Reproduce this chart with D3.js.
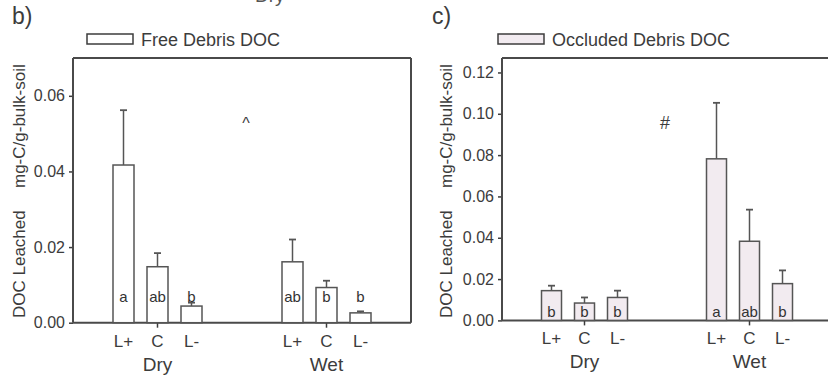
<!DOCTYPE html>
<html>
<head>
<meta charset="utf-8">
<script src="https://cdn.jsdelivr.net/npm/d3@7/dist/d3.min.js"></script>
<style>
  body { margin: 0; background: #fff; }
  svg { display: block; font-family: "Liberation Sans", Arial, sans-serif; }
</style>
</head>
<body>
<svg id="chart" width="828" height="379"></svg>
<script>
const groups = ["Dry", "Wet"];
const treatments = ["L+", "C", "L-"];

// panel b: free debris DOC (mean, upper error)
const freeMean = [[0.0417, 0.0148, 0.0044], [0.0161, 0.0093, 0.0026]];
const freeErr  = [[0.0562, 0.0184, 0.0053], [0.0220, 0.0111, 0.0030]];
const freeLetters = [["a", "ab", "b"], ["ab", "b", "b"]];
const freeTicks = [0, 0.02, 0.04, 0.06];

// panel c: occluded debris DOC
const occMean = [[0.0144, 0.0084, 0.0111], [0.0782, 0.0383, 0.0178]];
const occErr  = [[0.0168, 0.0111, 0.0144], [0.1053, 0.0536, 0.0242]];
const occLetters = [["b", "b", "b"], ["a", "ab", "b"]];
const occTicks = [0, 0.02, 0.04, 0.06, 0.08, 0.10, 0.12];

const ink = "#3c3c3c";
const svg = d3.select("#chart");

// cut-off headings at the very top
svg.append("text").attr("x", 255).attr("y", 2).attr("font-size", 19).attr("fill", "#555").text("Dry");
svg.append("text").attr("x", 630).attr("y", -1).attr("font-size", 19).attr("fill", "#777").text("Wet");

function toRows(means, errs, letters) {
  const rows = [];
  groups.forEach((g, i) => treatments.forEach((t, j) => {
    rows.push({ group: g, treat: t, mean: means[i][j], err: errs[i][j], letter: letters[i][j] });
  }));
  return rows;
}

function drawPanel(cfg) {
  const g = svg.append("g").attr("transform", `translate(${cfg.left},${cfg.top})`);
  const rows = toRows(cfg.means, cfg.errs, cfg.letters);

  const x0 = d3.scalePoint().domain(groups).range([0, cfg.width]).padding(0.5);
  const x1 = d3.scalePoint().domain(treatments).range([-cfg.step, cfg.step]);
  const y = d3.scaleLinear().domain([0, cfg.ymax]).range([cfg.height, 0]);
  const cx = d => x0(d.group) + x1(d.treat);

  // panel label + legend
  svg.append("text").attr("x", cfg.left - 61 + cfg.labelDx).attr("y", 24)
    .attr("font-size", 23).attr("fill", ink).text(cfg.tag);
  svg.append("rect").attr("x", cfg.legX).attr("y", 34).attr("width", 46).attr("height", 10)
    .attr("fill", cfg.fill).attr("stroke", ink).attr("stroke-width", 1.5);
  svg.append("text").attr("x", cfg.legX + 54).attr("y", 46)
    .attr("font-size", 18).attr("fill", ink).text(cfg.legend);

  // y axis
  const yAxis = g.append("g").call(d3.axisLeft(y).tickValues(cfg.ticks).tickFormat(d3.format(".2f")).tickSize(4));
  yAxis.select(".domain").remove();
  yAxis.selectAll("line").attr("stroke", ink).attr("stroke-width", 1.5);
  yAxis.selectAll("text").attr("font-size", 16).attr("fill", ink).attr("dx", -1)
    .attr("font-family", "Liberation Sans, Arial, sans-serif");

  // y label
  const yl = svg.append("g").attr("transform", `translate(${cfg.left - cfg.ylabDx},0)`);
  yl.append("text").attr("transform", "rotate(-90)").attr("x", -318).attr("y", 0)
    .attr("font-size", 17).attr("fill", ink).text("DOC Leached");
  yl.append("text").attr("transform", "rotate(-90)").attr("x", -188).attr("y", 0)
    .attr("font-size", 17).attr("fill", ink).text("mg-C/g-bulk-soil");

  // frame
  const frame = g.append("g").attr("fill", "none").attr("stroke", "#4a4a4a").attr("stroke-width", 2);
  frame.append("line").attr("x1", 0).attr("x2", 0).attr("y1", 0).attr("y2", cfg.height);
  frame.append("line").attr("x1", 0).attr("x2", cfg.width).attr("y1", 0).attr("y2", 0);
  frame.append("line").attr("x1", 0).attr("x2", cfg.width).attr("y1", cfg.height).attr("y2", cfg.height);
  if (cfg.rightEdge) {
    frame.append("line").attr("x1", cfg.width).attr("x2", cfg.width).attr("y1", 0).attr("y2", cfg.height);
  }

  // x ticks at group centres
  g.selectAll(".gtick").data(groups).enter().append("line")
    .attr("x1", d => x0(d)).attr("x2", d => x0(d))
    .attr("y1", cfg.height).attr("y2", cfg.height + 5)
    .attr("stroke", ink).attr("stroke-width", 1.5);

  // error bars
  g.selectAll(".err").data(rows).enter().append("line")
    .attr("x1", cx).attr("x2", cx).attr("y1", d => y(d.mean)).attr("y2", d => y(d.err))
    .attr("stroke", "#555").attr("stroke-width", 1.5);
  g.selectAll(".cap").data(rows).enter().append("line")
    .attr("x1", d => cx(d) - 3.5).attr("x2", d => cx(d) + 3.5)
    .attr("y1", d => y(d.err)).attr("y2", d => y(d.err))
    .attr("stroke", "#555").attr("stroke-width", 1.8);

  // bars
  g.selectAll(".bar").data(rows).enter().append("rect")
    .attr("x", d => cx(d) - cfg.barW / 2).attr("width", cfg.barW)
    .attr("y", d => y(d.mean)).attr("height", d => cfg.height - y(d.mean))
    .attr("fill", cfg.fill).attr("stroke", "#555").attr("stroke-width", 1.5);

  // significance letters
  g.selectAll(".letter").data(rows).enter().append("text")
    .attr("x", cx).attr("y", cfg.letterY)
    .attr("text-anchor", "middle").attr("font-size", 15).attr("fill", "#333")
    .text(d => d.letter);

  // category labels
  g.selectAll(".tlab").data(rows).enter().append("text")
    .attr("x", cx).attr("y", cfg.height + 24)
    .attr("text-anchor", "middle").attr("font-size", 17).attr("fill", ink)
    .text(d => d.treat);
  g.selectAll(".glab").data(groups).enter().append("text")
    .attr("x", d => x0(d)).attr("y", cfg.height + 48)
    .attr("text-anchor", "middle").attr("font-size", 19).attr("fill", ink)
    .text(d => d);

  // marker
  g.append("text").attr("x", cfg.markX).attr("y", 71)
    .attr("text-anchor", "middle").attr("font-size", cfg.markSize).attr("fill", ink).text(cfg.mark);
}

drawPanel({
  tag: "b)", labelDx: 0, left: 73, top: 58, width: 338, height: 264.7, step: 34, barW: 21,
  ymax: 0.07, ticks: freeTicks, means: freeMean, errs: freeErr, letters: freeLetters,
  fill: "#ffffff", legend: "Free Debris DOC", legX: 87, rightEdge: true,
  letterY: 244, ylabDx: 48, mark: "^", markX: 173, markSize: 16
});

drawPanel({
  tag: "c)", labelDx: -9, left: 502, top: 58, width: 330, height: 262.4, step: 33, barW: 20,
  ymax: 0.127, ticks: occTicks, means: occMean, errs: occErr, letters: occLetters,
  fill: "#f2ebf0", legend: "Occluded Debris DOC", legX: 498, rightEdge: false,
  letterY: 259, ylabDx: 50, mark: "#", markX: 163, markSize: 18
});
</script>
</body>
</html>
